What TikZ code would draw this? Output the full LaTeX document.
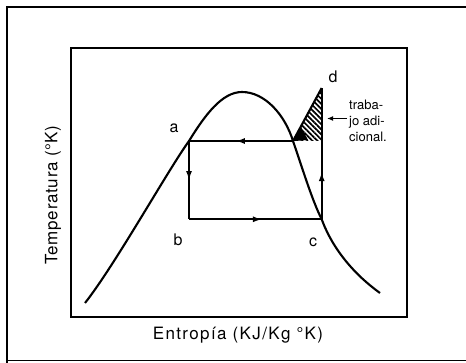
\documentclass[tikz,border=0pt]{standalone}
\usepackage{fontspec}
\setmainfont{TeX Gyre Heros}
\usetikzlibrary{patterns.meta,arrows.meta,decorations.markings}
\begin{document}
\begin{tikzpicture}[x=1pt,y=-1pt,
  ln/.style={line width=2.1pt},
  lbl/.style={font=\fontsize{16}{16}\selectfont, inner sep=0pt},
  midarr/.style={postaction={decorate},decoration={markings,mark=at position #1 with {\arrow{Latex[length=9pt,width=6pt]}}}}]
\useasboundingbox (0,0) rectangle (466,363);
% outer frame
\draw[line width=1.3pt] (7,363) -- (7,7) -- (466,7);
\draw[line width=1pt] (7,361) -- (466,361);
% plot box
\draw[ln] (70.7,48.3) rectangle (407.3,316.7);
% saturation curve
\draw[ln] (85,303) .. controls (115,265) and (168,170) .. (189,141)
  .. controls (205,115) and (222,92) .. (242,92)
  .. controls (265,92) and (285,115) .. (293,141)
  .. controls (303,170) and (312,200) .. (321.7,219.3)
  .. controls (333,250) and (355,275) .. (380,293);
% cycle points
\coordinate (a) at (189,141);
\coordinate (b) at (189,219.3);
\coordinate (c) at (321.7,219.3);
\coordinate (d) at (321.7,88);
\coordinate (e) at (293,141);
\coordinate (f) at (321.7,141);
% hatched triangle
\fill[pattern={Lines[angle=-45,distance=3.6pt,line width=1.7pt]}, pattern color=black] (e) -- (d) -- (f) -- cycle;
\fill (e) -- (301,127) -- (308,140) -- cycle;
\draw[ln] (e) -- (d);
% cycle lines
\draw[ln, midarr=0.55] (e) -- (a);
\draw[ln, midarr=0.5] (a) -- (b);
\draw[ln, midarr=0.55] (b) -- (c);
\draw[ln, midarr=0.36] (c) -- (d);
% labels
\node[lbl] (la) at (174,128) {a};
\node[lbl] (lb) at (178,240) {b};
\node[lbl] (lc) at (313,242) {c};
\node[lbl] (ld) at (333,77) {d};
\node[font=\fontsize{13}{16}\selectfont, align=left, inner sep=0pt, anchor=north west] (t) at (349,100) {traba-\\jo adi-\\cional.};
\coordinate (tp) at (347,118.5);
\draw[line width=1.3pt, -{Latex[length=6pt,width=5pt]}] (tp) -- (327,118.5);
% axis labels
\node[font=\fontsize{17}{17}\selectfont\addfontfeature{LetterSpace=8}, inner sep=0pt] (xl) at (238,335) {Entropía (KJ/Kg °K)};
\node[font=\fontsize{17}{17}\selectfont\addfontfeature{LetterSpace=4}, inner sep=0pt, rotate=90] (yl) at (53,195) {Temperatura (°K)};
\end{tikzpicture}
\end{document}
